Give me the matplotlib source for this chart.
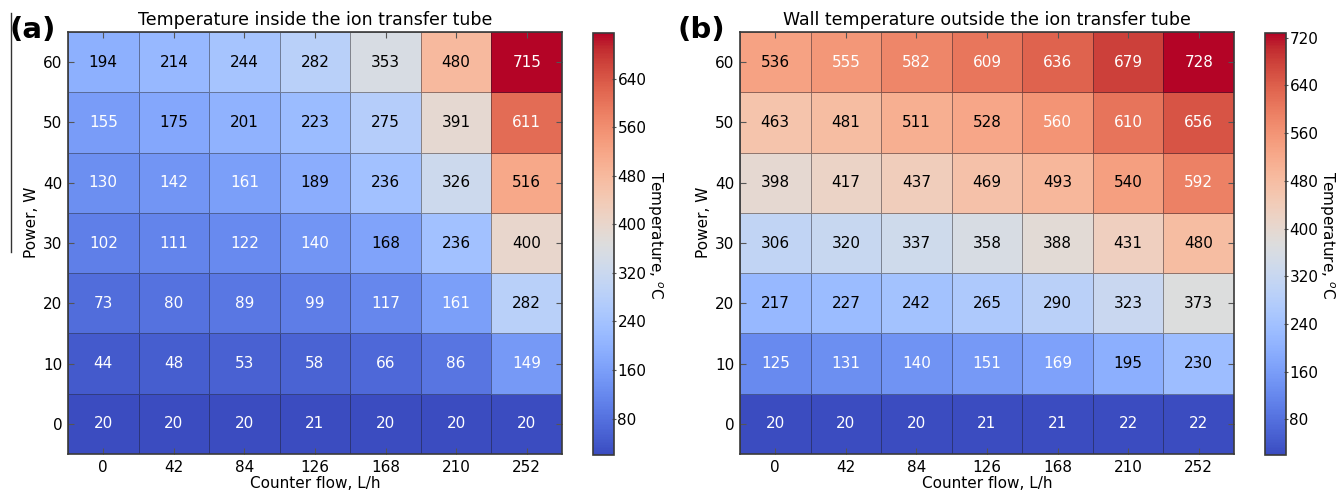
import numpy as np
import matplotlib
matplotlib.use("Agg")
import matplotlib.pyplot as plt
from matplotlib.lines import Line2D

counter_flow = [0, 42, 84, 126, 168, 210, 252]
power = [0, 10, 20, 30, 40, 50, 60]

# rows: power 0..60 (bottom to top), columns: counter flow
temp_inside = np.array([
    [20, 20, 20, 21, 20, 20, 20],
    [44, 48, 53, 58, 66, 86, 149],
    [73, 80, 89, 99, 117, 161, 282],
    [102, 111, 122, 140, 168, 236, 400],
    [130, 142, 161, 189, 236, 326, 516],
    [155, 175, 201, 223, 275, 391, 611],
    [194, 214, 244, 282, 353, 480, 715],
])
temp_wall = np.array([
    [20, 20, 20, 21, 21, 22, 22],
    [125, 131, 140, 151, 169, 195, 230],
    [217, 227, 242, 265, 290, 323, 373],
    [306, 320, 337, 358, 388, 431, 480],
    [398, 417, 437, 469, 493, 540, 592],
    [463, 481, 511, 528, 560, 610, 656],
    [536, 555, 582, 609, 636, 679, 728],
])
titles = ["Temperature inside the ion transfer tube",
          "Wall temperature outside the ion transfer tube"]
panel_labels = ["(a)", "(b)"]
cbar_ticks_a = [80, 160, 240, 320, 400, 480, 560, 640]
cbar_ticks_b = [80, 160, 240, 320, 400, 480, 560, 640, 720]

W, H = 1339, 492
fig = plt.figure(figsize=(W / 100, H / 100), dpi=100)
plt.rcParams['font.family'] = ['DejaVu Sans']

def fx(px):
    return px / W

def fy(py):
    return 1 - py / H

ax_boxes = [(68, 562), (740, 1234)]
cb_boxes = [(593, 614), (1265, 1286)]
top, bot = 32, 454
cb_top, cb_bot = 33, 455

datas = [temp_inside, temp_wall]
cticks = [cbar_ticks_a, cbar_ticks_b]
spine_col = '#3a3a3a'

for i in range(2):
    data = datas[i]
    vmin, vmax = 20, data.max()
    l, r = ax_boxes[i]
    ax = fig.add_axes([fx(l), fy(bot), fx(r) - fx(l), fy(top) - fy(bot)])
    xe = np.arange(len(counter_flow) + 1) - 0.5
    ye = np.arange(len(power) + 1) - 0.5
    mesh = ax.pcolormesh(xe, ye, data, cmap='coolwarm', vmin=vmin, vmax=vmax,
                         edgecolors=(0.1, 0.1, 0.15, 0.45), linewidth=0.5)
    ax.set_xlim(-0.5, len(counter_flow) - 0.5)
    ax.set_ylim(-0.5, len(power) - 0.5)
    ax.set_xticks(range(len(counter_flow)))
    ax.set_xticklabels([str(v) for v in counter_flow])
    ax.set_yticks(range(len(power)))
    ax.set_yticklabels([str(v) for v in power])
    ax.tick_params(direction='in', top=True, right=True, length=4, width=0.8,
                   color='#555555', labelsize=11, pad=4)
    for s in ax.spines.values():
        s.set_color(spine_col)
        s.set_linewidth(1.2)
    ax.set_xlabel("Counter flow, L/h", fontsize=11, labelpad=1)
    ax.set_ylabel("Power, W", fontsize=11)
    ax.yaxis.set_label_coords(-0.058, 0.55)
    ax.set_title(titles[i], fontsize=12.5, pad=5)
    norm = (data - vmin) / (vmax - vmin)
    for yi in range(data.shape[0]):
        for xi in range(data.shape[1]):
            n = norm[yi, xi]
            col = 'white' if (n < 0.212 or n > 0.745) else 'black'
            ax.text(xi, yi, str(data[yi, xi]), ha='center', va='center',
                    fontsize=11, color=col)

    cl, cr = cb_boxes[i]
    cax = fig.add_axes([fx(cl), fy(cb_bot), fx(cr) - fx(cl), fy(cb_top) - fy(cb_bot)])
    cb = fig.colorbar(mesh, cax=cax, ticks=cticks[i])
    cb.outline.set_edgecolor(spine_col)
    cb.outline.set_linewidth(1.2)
    cax.tick_params(labelsize=11, length=3, width=0.8, color='#555555', pad=1,
                    direction='inout')
    cb.set_label("Temperature, $^o$C", rotation=270, fontsize=11, labelpad=16)
    cax.yaxis.set_label_coords(3.42, 0.52)

    fig.text(fx([10, 677][i]), fy(30), panel_labels[i], fontsize=21,
             fontweight='bold', ha='left', va='center')

fig.add_artist(Line2D([fx(11), fx(11)], [fy(13), fy(252)], color='#333333', lw=1.0))

fig.savefig("out.png", dpi=100)
